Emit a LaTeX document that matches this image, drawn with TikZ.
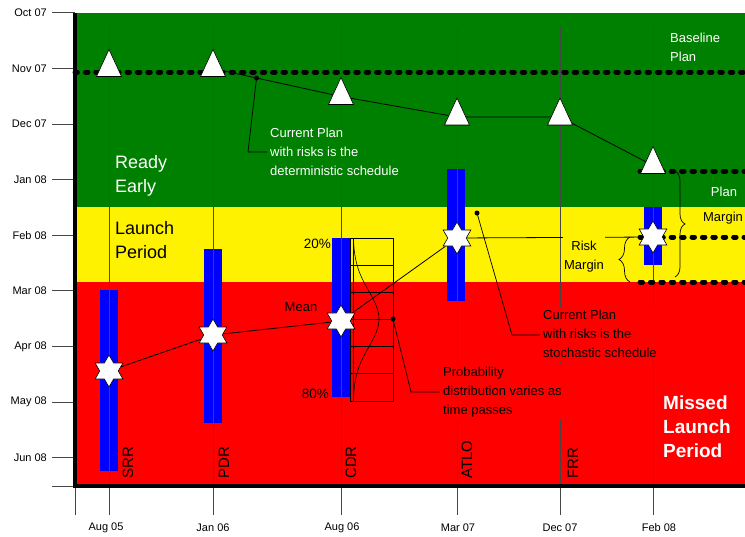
\documentclass[tikz,border=0pt]{standalone}
\usepackage{fontspec}
\setmainfont{Liberation Sans}
\usetikzlibrary{shapes.geometric,decorations.pathreplacing,calc}

\definecolor{earlygreen}{RGB}{0,128,0}
\definecolor{gridgray}{RGB}{70,70,70}

\pgfdeclarelayer{bg}
\pgfdeclarelayer{lines}
\pgfsetlayers{bg,lines,main}

\tikzset{
  milestone/.style={isosceles triangle, isosceles triangle stretches, shape border rotate=90,
    minimum width=25pt, minimum height=27pt, inner sep=0pt, draw=black, fill=white, line width=0.6pt},
  riskstar/.style={star, star points=6, star point ratio=1.73, minimum size=32pt,
    inner sep=0pt, draw=black, fill=white, line width=0.6pt},
  margindots/.style={line width=5pt, dash pattern=on 2.5pt off 7.9pt, line cap=round},
  ticktext/.style={font=\fontsize{11}{13}\selectfont, inner sep=1pt},
  notetext/.style={font=\fontsize{13}{19}\selectfont, align=left, anchor=north west, inner sep=3pt},
  bigtext/.style={font=\fontsize{18}{24}\selectfont, align=left, anchor=north west, inner sep=0pt},
  phaselabel/.style={font=\fontsize{15}{17}\selectfont, rotate=90, anchor=west, inner sep=1pt},
  leader/.style={line width=0.7pt},
}

\begin{document}
\begin{tikzpicture}[x=1pt,y=-1pt]
    \useasboundingbox (0,0) rectangle (745,536);

    \begin{pgfonlayer}{bg}
        % Launch zones
        \fill[earlygreen] (75,13) rectangle (745,207);
        \fill[yellow] (75,207) rectangle (745,282);
        \fill[red] (75,282) rectangle (745,486);

        % Spread of the stochastic schedule
        \fill[blue] (100,290) rectangle (118,471);
        \fill[blue] (204,249) rectangle (222,423);
        \fill[blue] (332,238) rectangle (350,397);
        \fill[blue] (447,169) rectangle (465,301);
        \fill[blue] (644,207) rectangle (662,265);

        % Milestone lines
        \foreach \x in {109,213,341,457,560,653}
            \draw[gridgray, line width=0.7pt] (\x,27) -- (\x,515);
        \draw[gridgray, line width=0.7pt] (75,486) -- (75,515);

        % Month ticks
        \foreach \i in {0,...,8}
            \draw[gridgray, line width=0.7pt] (52,{12.7+55.6*\i}) -- (75,{12.7+55.6*\i});
        \draw[gridgray, line width=0.7pt] (52,486) -- (75,486);

        % Axes
        \draw[line width=3.3pt] (75,13) -- (75,486) -- (745,486);
    \end{pgfonlayer}

    % Month labels
    \foreach \m [count=\i from 0] in {Oct 07,Nov 07,Dec 07,Jan 08,Feb 08,Mar 08,Apr 08,May 08,Jun 08}
        \node[ticktext, anchor=east] (month\i) at (48,{12.7+55.6*\i}) {\m};

    % Review dates
    \foreach \x/\d [count=\i] in {106/Aug 05,213/Jan 06,342/Aug 06,458/Mar 07,560/Dec 07,659/Feb 08}
        \node[ticktext] (date\i) at (\x,528) {\d};

    % Milestone names
    \node[phaselabel] (srrlbl) at (128,480) {SRR};
    \node[phaselabel] (pdrlbl) at (224,480) {PDR};
    \node[phaselabel] (cdrlbl) at (351,480) {CDR};
    \node[phaselabel] (atlolbl) at (467,480) {ATLO};
    \node[phaselabel] (frrlbl) at (573,480) {FRR};

    % Zone names
    \node[bigtext, text=white] (ready) at (115,155.5) {Ready\\Early};
    \node[bigtext] (launch) at (115,221.5) {Launch\\Period};
    \node[font=\bfseries\fontsize{19}{24}\selectfont, text=white, align=left, anchor=north west, inner sep=0pt]
        (missed) at (663,396) {Missed\\Launch\\Period};
    \node[notetext, text=white, inner sep=0pt] (baseplan) at (670,33) {Baseline\\Plan};

    % Notes
    \node[notetext, text=white, fill=earlygreen] (detnote) at (267,125) {Current Plan\\with risks is the\\deterministic schedule};
    \node[notetext, fill=red] (stonote) at (540,307) {Current Plan\\with risks is the\\stochastic schedule};
    \node[notetext, fill=red] (probnote) at (440,364) {Probability\\distribution varies as\\time passes};

    % Margins
    \node[font=\fontsize{13}{19}\selectfont, align=center, fill=yellow, inner xsep=1pt, inner ysep=5pt, anchor=north]
        (riskm) at (584,235.5) {Risk\\Margin};
    \node[font=\fontsize{13}{19}\selectfont, text=white] (planm) at (724,192) {Plan};
    \node[font=\fontsize{13}{19}\selectfont] (marginm) at (723,218) {Margin};

    % Distribution labels
    \node[font=\fontsize{13.5}{16}\selectfont, anchor=east, inner sep=0pt] (p20) at (331,244) {20\%};
    \node[font=\fontsize{13.5}{16}\selectfont, anchor=east, inner sep=0pt] (p80) at (329,394) {80\%};
    \node[font=\fontsize{13}{16}\selectfont, inner sep=0pt] (meanlbl) at (301,307) {Mean};

    % Deterministic schedule
    \node[milestone] (srrT) at (109,68.5) {};
    \node[milestone] (pdrT) at (213,68.5) {};
    \node[milestone] (cdrT) at (341,96.5) {};
    \node[milestone] (atloT) at (457,117) {};
    \node[milestone] (frrT) at (560,117) {};
    \node[milestone] (febT) at (653,165.5) {};

    % Stochastic schedule
    \node[riskstar] (srrS) at (109,371) {};
    \node[riskstar] (pdrS) at (213,335) {};
    \node[riskstar] (cdrS) at (341,321) {};
    \node[riskstar] (atloS) at (457,238) {};
    \node[riskstar] (febS) at (653,237) {};

    \coordinate (detdot) at ($(pdrT)!0.34!(cdrT)$);
    \coordinate (detbend) at (248,152);
    \coordinate (stodot) at (477,213);
    \coordinate (stobend) at (512,335);
    \coordinate (probdot) at (393,319);
    \coordinate (probbend) at (411,392);

    \begin{pgfonlayer}{lines}
        % Baseline and margin lines
        \draw[margindots] (75,72) -- (745,72);
        \draw[margindots] (640,171) -- (745,171);
        \draw[margindots] (640,237) -- (745,237);
        \draw[margindots] (640,282) -- (745,282);

        % Schedules
        \draw[line width=0.8pt] (pdrT) -- (cdrT) -- (atloT) -- (frrT) -- (febT);
        \draw[line width=0.8pt] (srrS) -- (pdrS) -- (cdrS) -- (atloS) -- (febS);

        % Probability distribution
        \draw[line width=0.7pt] (350,238) rectangle (393,401);
        \foreach \y in {265,292,319,346,373}
            \draw[line width=0.7pt] (350,\y) -- (393,\y);
        \draw[line width=0.5pt] (353,238) -- (353,401);
        \draw[line width=0.6pt] plot[domain=-80:80, samples=61, smooth]
            ({353+26*exp(-((\x)*(\x))/1568)},{319+\x});

        % Braces
        \draw[leader, decorate, decoration={brace, amplitude=10pt}] (675,171) -- (675,277);
        \draw[leader, decorate, decoration={brace, amplitude=11pt}] (630,282) -- (630,237);

        % Leaders
        \fill (detdot) circle (2.5);
        \draw[leader] (detdot) -- (detbend) -- (detbend -| detnote.west);
        \fill (stodot) circle (2.5);
        \draw[leader] (stodot) -- (stobend) -- (stobend -| stonote.west);
        \fill (probdot) circle (2.5);
        \draw[leader] (probdot) -- (probbend) -- (probbend -| probnote.west);
    \end{pgfonlayer}
\end{tikzpicture}
\end{document}
